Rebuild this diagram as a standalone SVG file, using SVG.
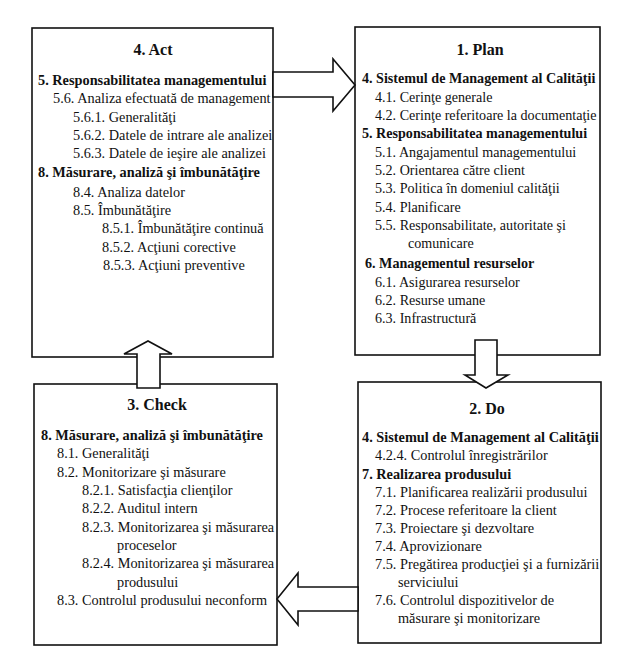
<svg xmlns="http://www.w3.org/2000/svg" width="632" height="656" viewBox="0 0 632 656">
<style>
.box{fill:#fff;stroke:#111;stroke-width:1.6}
.arr{fill:#fff;stroke:#111;stroke-width:1.6;stroke-linejoin:miter}
text{font-family:"Liberation Serif","Times New Roman",serif;fill:#111;font-size:14.3px}
.t{font-size:16px;font-weight:bold;text-anchor:middle}
.b{font-weight:bold}
#plan text{font-size:14.1px}
#plan text.t{font-size:16px}
</style>
<rect width="632" height="656" fill="#fff"/>
<g id="act">
<rect class="box" x="32" y="28" width="241" height="329"/>
<text class="t" x="153" y="55">4. Act</text>
<text class="b" x="38" y="85">5. Responsabilitatea managementului</text>
<text x="53" y="103">5.6. Analiza efectuată de management</text>
<text x="73" y="122">5.6.1. Generalităţi</text>
<text x="73" y="140">5.6.2. Datele de intrare ale analizei</text>
<text x="73" y="158">5.6.3. Datele de ieşire ale analizei</text>
<text class="b" x="38" y="177">8. Măsurare, analiză şi îmbunătăţire</text>
<text x="73" y="197">8.4. Analiza datelor</text>
<text x="73" y="215">8.5. Îmbunătăţire</text>
<text x="102" y="233">8.5.1. Îmbunătăţire continuă</text>
<text x="102" y="252">8.5.2. Acţiuni corective</text>
<text x="103" y="270">8.5.3. Acţiuni preventive</text>
</g>
<g id="plan">
<rect class="box" x="355" y="27" width="245" height="328"/>
<text class="t" x="480" y="55">1. Plan</text>
<text class="b" x="362" y="83">4. Sistemul de Management al Calităţii</text>
<text x="375" y="102">4.1. Cerinţe generale</text>
<text x="375" y="120">4.2. Cerinţe referitoare la documentaţie</text>
<text class="b" x="362" y="138">5. Responsabilitatea managementului</text>
<text x="375" y="157">5.1. Angajamentul managementului</text>
<text x="375" y="175">5.2. Orientarea către client</text>
<text x="375" y="193">5.3. Politica în domeniul calităţii</text>
<text x="375" y="212">5.4. Planificare</text>
<text x="375" y="230">5.5. Responsabilitate, autoritate şi</text>
<text x="408" y="248">comunicare</text>
<text class="b" x="365" y="268">6. Managementul resurselor</text>
<text x="375" y="287">6.1. Asigurarea resurselor</text>
<text x="375" y="305">6.2. Resurse umane</text>
<text x="375" y="323">6.3. Infrastructură</text>
</g>
<g id="check">
<rect class="box" x="34" y="384" width="243" height="261"/>
<text class="t" x="157" y="410">3. Check</text>
<text class="b" x="41" y="440">8. Măsurare, analiză şi îmbunătăţire</text>
<text x="57" y="458">8.1. Generalităţi</text>
<text x="57" y="477">8.2. Monitorizare şi măsurare</text>
<text x="82" y="495">8.2.1. Satisfacţia clienţilor</text>
<text x="82" y="513">8.2.2. Auditul intern</text>
<text x="82" y="532">8.2.3. Monitorizarea şi măsurarea</text>
<text x="117" y="550">proceselor</text>
<text x="82" y="568">8.2.4. Monitorizarea şi măsurarea</text>
<text x="117" y="587">produsului</text>
<text x="57" y="605">8.3. Controlul produsului neconform</text>
</g>
<g id="do">
<rect class="box" x="358" y="382" width="243" height="261"/>
<text class="t" x="487" y="414">2. Do</text>
<text class="b" x="362" y="442">4. Sistemul de Management al Calităţii</text>
<text x="375" y="460">4.2.4. Controlul înregistrărilor</text>
<text class="b" x="362" y="479">7. Realizarea produsului</text>
<text x="375" y="497">7.1. Planificarea realizării produsului</text>
<text x="375" y="515">7.2. Procese referitoare la client</text>
<text x="375" y="533">7.3. Proiectare şi dezvoltare</text>
<text x="375" y="551">7.4. Aprovizionare</text>
<text x="375" y="569">7.5. Pregătirea producţiei şi a furnizării</text>
<text x="398" y="587">serviciului</text>
<text x="375" y="605">7.6. Controlul dispozitivelor de</text>
<text x="398" y="623">măsurare şi monitorizare</text>
</g>
<g id="connectors">
<polygon class="arr" points="273,72 333,72 333,59 355,85 333,111 333,97 273,97"/>
<polygon class="arr" points="475,340 497,340 497,375 508,375 486,388 465,375 475,375"/>
<polygon class="arr" points="358,587 298,587 298,573 277,599 298,625 298,611 358,611"/>
<polygon class="arr" points="137,388 137,354 124,354 148,341 172,354 160,354 160,388"/>
</g>
</svg>
